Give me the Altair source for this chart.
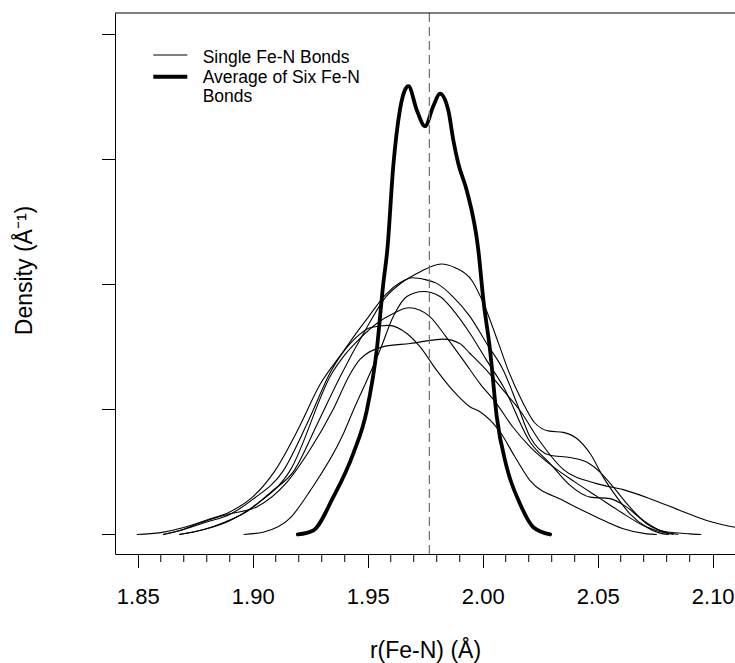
import altair as alt
import pandas as pd

# ---- Single Fe-N bond density curves (r in Å, density in Å^-1) ----
A_x = [1.868, 1.878, 1.888, 1.898, 1.908, 1.918, 1.928, 1.938, 1.948, 1.958, 1.964, 1.972, 1.982,
       1.988, 1.9952, 2.0, 2.0068, 2.0111, 2.017, 2.0227, 2.029, 2.035, 2.0409, 2.0467, 2.0524,
       2.0583, 2.064, 2.0713, 2.0785, 2.081]
A_y = [0, 0.35, 1.0, 1.9, 3.4, 5.1, 8.8, 12.6, 16.0, 19.0, 20.0, 20.9, 21.6,
       21.3, 20.3, 18.6, 15.3, 13.1, 10.7, 8.9, 8.25, 8.15, 7.66, 6.46, 4.58,
       2.98, 1.65, 0.58, 0.05, 0]

B_x = [1.861, 1.87, 1.88, 1.89, 1.90, 1.9133, 1.924, 1.9336, 1.942, 1.95, 1.958, 1.964, 1.9695,
       1.975, 1.98, 1.987, 1.9945, 2.0017, 2.009, 2.015, 2.0206, 2.0293, 2.038, 2.0452, 2.051,
       2.0568, 2.064, 2.0713, 2.0815, 2.085]
B_y = [0, 0.4, 1.0, 1.6, 2.8, 5.1, 9.0, 12.9, 15.3, 17.3, 19.2, 20.1, 20.5,
       20.35, 20.05, 19.0, 17.4, 15.25, 13.1, 10.4, 7.78, 6.32, 6.14, 5.78, 4.98,
       3.78, 2.18, 0.86, 0.1, 0]

C_x = [1.896, 1.9045, 1.9162, 1.925, 1.9393, 1.9437, 1.9496, 1.9553, 1.9611, 1.967, 1.9742,
       1.9814, 1.9872, 1.9945, 2.0017, 2.009, 2.0206, 2.0293, 2.038, 2.0467, 2.0554, 2.0626,
       2.0698, 2.0785, 2.0901, 2.095]
C_y = [0, 0.18, 1.3, 3.5, 8.0, 9.9, 12.3, 14.7, 17.4, 19.0, 19.4,
       19.0, 17.9, 16.05, 13.9, 11.8, 7.38, 5.66, 3.92, 2.98, 2.86, 2.18,
       1.12, 0.26, 0.05, 0]

D_x = [1.868, 1.88, 1.89, 1.90, 1.9162, 1.9345, 1.9394, 1.9466, 1.9539, 1.9611, 1.968, 1.977,
       1.984, 1.9916, 1.9988, 2.006, 2.013, 2.0206, 2.03, 2.04, 2.05, 2.06, 2.07, 2.08, 2.083]
D_y = [0, 0.45, 1.1, 2.2, 5.1, 12.9, 14.2, 15.65, 16.85, 17.65, 18.1, 17.4,
       15.8, 13.9, 12.05, 10.45, 8.6, 7.0, 5.5, 4.2, 3.0, 1.8, 0.7, 0.1, 0]

E_x = [1.8496, 1.86, 1.87, 1.88, 1.89, 1.90, 1.9097, 1.92, 1.9293, 1.9365, 1.9437, 1.951, 1.959,
       1.967, 1.9727, 1.980, 1.987, 1.9944, 1.9988, 2.0075, 2.014, 2.0206, 2.035, 2.0496, 2.0611,
       2.0713, 2.0757]
E_y = [0, 0.15, 0.55, 1.15, 1.8, 3.0, 5.1, 8.5, 12.0, 13.9, 15.5, 16.5, 16.7,
       16.05, 15.0, 13.1, 11.5, 10.2, 9.8, 8.2, 6.2, 4.3, 2.72, 1.38, 0.46,
       0.05, 0]

F_x = [1.861, 1.868, 1.876, 1.885, 1.8901, 1.9017, 1.915, 1.925, 1.935, 1.9423, 1.9467, 1.9568,
       1.9684, 1.9829, 1.990, 1.9945, 2.0017, 2.009, 2.0162, 2.025, 2.035, 2.0496, 2.0611, 2.0727,
       2.0858, 2.0974, 2.1097, 2.12, 2.13]
F_y = [0, 0.3, 0.85, 1.4, 1.65, 2.2, 4.2, 6.8, 10.0, 12.8, 14.0, 15.0,
       15.25, 15.6, 15.25, 14.45, 13.1, 11.5, 9.9, 7.4, 5.2, 4.06, 3.58, 2.86,
       1.92, 1.12, 0.58, 0.3, 0.15]

# ---- Average of six Fe-N bonds ----
T_x = [1.9196, 1.9263, 1.935, 1.9437, 1.9496, 1.9539, 1.9568, 1.9585, 1.9611, 1.964, 1.9662,
       1.9677, 1.9713, 1.9749, 1.9785, 1.9814, 1.985, 1.9872, 1.9894, 1.993, 1.9981, 2.0003,
       2.0032, 2.0061, 2.0104, 2.0162, 2.022, 2.0293]
T_y = [0, 0.32, 2.98, 6.46, 9.9, 14.7, 20.1, 22.7, 29.4, 33.9, 35.5,
       35.8, 33.9, 32.6, 34.2, 35.2, 33.9, 31.5, 29.6, 27.5, 22.7, 18.7,
       14.7, 9.4, 5.4, 2.46, 0.58, 0]

mean_r = [1.9768]

major_ticks = [1.85, 1.90, 1.95, 2.00, 2.05, 2.10]
minor_ticks = [1.86, 1.87, 1.88, 1.89, 1.91, 1.92, 1.93, 1.94, 1.96, 1.97, 1.98, 1.99,
               2.01, 2.02, 2.03, 2.04, 2.06, 2.07, 2.08, 2.09]
y_ticks = [0, 10, 20, 30, 40]

legend_labels = ["Single Fe-N Bonds", "Average of Six Fe-N", "Bonds"]

rows = []
for name, xs, ys in [("A", A_x, A_y), ("B", B_x, B_y), ("C", C_x, C_y),
                     ("D", D_x, D_y), ("E", E_x, E_y), ("F", F_x, F_y)]:
    for xv, yv in zip(xs, ys):
        rows.append({"curve": name, "r": xv, "density": yv})
thin_df = pd.DataFrame(rows)
thick_df = pd.DataFrame({"r": T_x, "density": T_y})
mean_df = pd.DataFrame({"r": mean_r})
minor_df = pd.DataFrame({"r": minor_ticks})
one = pd.DataFrame({"k": [0]})

W, H = 620, 541
FONT = "Liberation Sans"

xscale = alt.Scale(domain=[1.8401, 2.1097], nice=False, zero=False)
yscale = alt.Scale(domain=[-1.56, 41.64], nice=False, zero=False)

x_axis = alt.Axis(
    values=major_ticks, format=".2f", tickSize=13.5,
    labelOverlap=False, labelFlush=False, grid=False,
    labelFontSize=22, labelBaseline="alphabetic", labelPadding=36,
    title="r(Fe-N) (Å)", titleFontSize=23, titleX=310, titleY=103,
    titleBaseline="alphabetic", titleFontWeight="normal",
)
y_axis = alt.Axis(
    values=y_ticks, labels=False, tickSize=13.5, grid=False,
    title="Density (Å⁻¹)", titleFontSize=23, titleX=-84, titleY=257,
    titleAngle=270, titleBaseline="alphabetic", titleFontWeight="normal",
)

thin = alt.Chart(thin_df).mark_line(
    color="black", strokeWidth=1.1, interpolate="monotone", clip=True
).encode(
    x=alt.X("r:Q", scale=xscale, axis=x_axis),
    y=alt.Y("density:Q", scale=yscale, axis=y_axis),
    detail="curve:N",
)

thick = alt.Chart(thick_df).mark_line(
    color="black", strokeWidth=3.8, interpolate="monotone", strokeCap="round", clip=True
).encode(
    x=alt.X("r:Q", scale=xscale),
    y=alt.Y("density:Q", scale=yscale),
)

mean_rule = alt.Chart(mean_df).mark_rule(
    color="#707070", strokeWidth=1.2, strokeDash=[9, 5]
).encode(x=alt.X("r:Q", scale=xscale))

minor = alt.Chart(minor_df).mark_rule(color="black", strokeWidth=1).encode(
    x=alt.X("r:Q", scale=xscale), y=alt.value(H), y2=alt.value(H + 8)
)

top_border = alt.Chart(one).mark_rule(color="black", strokeWidth=1).encode(
    x=alt.value(0), x2=alt.value(W), y=alt.value(0)
)

leg_thin = alt.Chart(one).mark_rule(color="black", strokeWidth=1.1).encode(
    x=alt.value(38.3), x2=alt.value(72.3), y=alt.value(42)
)
leg_thick = alt.Chart(one).mark_rule(color="black", strokeWidth=4).encode(
    x=alt.value(38.3), x2=alt.value(72.3), y=alt.value(63.7)
)
leg_text = [
    alt.Chart(one).mark_text(
        text=lab, align="left", baseline="alphabetic", fontSize=17.5, font=FONT, color="black"
    ).encode(x=alt.value(87.7), y=alt.value(yy))
    for lab, yy in zip(legend_labels, [49.7, 70.3, 88.7])
]

chart = alt.layer(
    thin, thick, mean_rule, minor, top_border, leg_thin, leg_thick, *leg_text
).properties(
    width=W, height=H,
    autosize=alt.AutoSizeParams(type="none"),
    padding={"left": 115, "top": 13, "right": 0, "bottom": 109},
).configure_view(
    stroke=None
).configure_axis(
    domainColor="black", tickColor="black", labelColor="black", titleColor="black",
    labelFont=FONT, titleFont=FONT, domainWidth=1, tickWidth=1,
)

chart.save("out.html", embed_options={"renderer": "svg", "actions": False})
